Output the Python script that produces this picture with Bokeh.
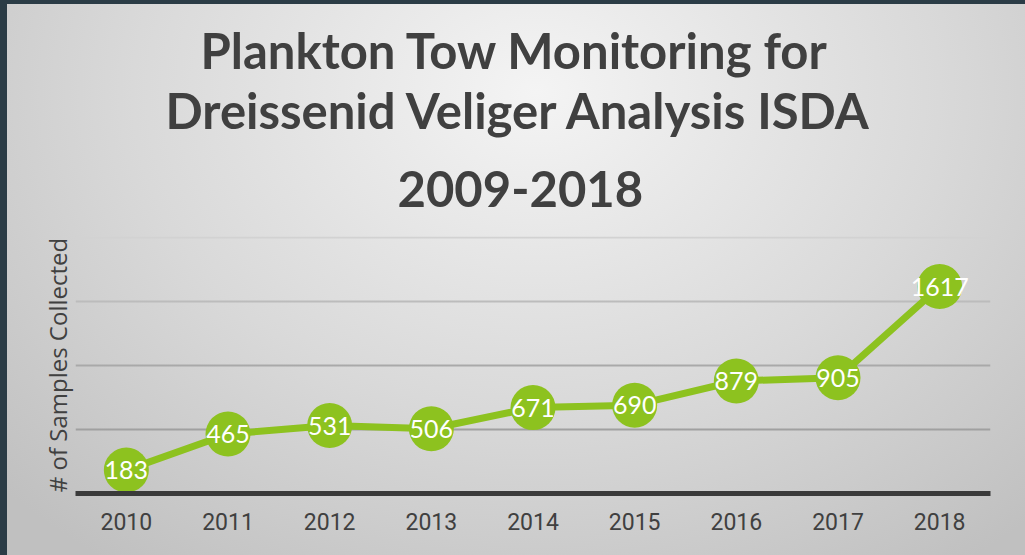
from bokeh.plotting import figure
from bokeh.models import (FactorRange, Range1d, FixedTicker, Title, LabelSet, Grid,
                          ColumnDataSource, InlineStyleSheet, GlobalInlineStyleSheet)
from bokeh.core.properties import value
from bokeh.embed import file_html
from bokeh.resources import INLINE

# ---- data ----
years = ["2010", "2011", "2012", "2013", "2014", "2015", "2016", "2017", "2018"]
samples = [183, 465, 531, 506, 671, 690, 879, 905, 1617]
title_lines = ["Plankton Tow Monitoring for", "Dreissenid Veliger Analysis ISDA", "2009-2018"]
y_label = "# of Samples Collected"
grid_ticks = [500, 1000, 1500, 2000]
grid_colors = ["#a0a0a0", "#a9a9a9", "#bcbcbc", "#d2d2d2"]

GREEN = "#8dc21f"
DARK = "#404040"

src = ColumnDataSource(dict(x=years, y=samples, lbl=[str(v) for v in samples]))

p = figure(width=1018, height=551, x_range=FactorRange(*years, range_padding=0),
           y_range=Range1d(0, 2008), output_backend="svg", toolbar_location=None,
           title_location=None, min_border_left=68, min_border_right=35,
           min_border_top=232, min_border_bottom=62)

p.border_fill_color = None
p.background_fill_color = None
p.outline_line_color = None
p.stylesheets = [
    InlineStyleSheet(css=":host { background: radial-gradient(ellipse 72% 105% at 52% 16%, #f4f4f4 0%, #d9d9d9 55%, #c0c0c0 100%); }"),
    GlobalInlineStyleSheet(css="html, body { margin: 0 !important; background: #2b3c46; } body { padding: 4px 0 0 7px !important; box-sizing: border-box; }"),
]

# grid lines (one per level so each can keep its own shade)
p.xgrid.grid_line_color = None
p.ygrid.grid_line_color = None
for t, c in zip(grid_ticks, grid_colors):
    p.add_layout(Grid(dimension=1, ticker=FixedTicker(ticks=[t]),
                      grid_line_color=c, grid_line_width=2))

p.line("x", "y", source=src, line_color=GREEN, line_width=7)
p.scatter("x", "y", source=src, size=45, fill_color=GREEN, line_color=None)
p.add_layout(LabelSet(x="x", y="y", text="lbl", source=src, text_align="center",
                      text_baseline="middle", text_color="white",
                      text_font=value("Lato"), text_font_size="25px"))

# title lines: nearest-to-plot first; later ones stack above
title_offsets = [125, 90, 322]      # left offset from the frame's left edge (px)
title_standoffs = [0, 0, 60]
for line, off, so in reversed(list(zip(title_lines, title_offsets, title_standoffs))):
    p.add_layout(Title(text=line, align="left", offset=off, standoff=so,
                       text_font="Lato", text_font_style="bold",
                       text_font_size="49px", text_color=DARK), "above")

# x axis
xa = p.xaxis[0]
xa.axis_line_color = "#3a3a3a"
xa.axis_line_width = 5
xa.major_tick_line_color = None
xa.minor_tick_line_color = None
xa.major_label_text_font = "Roboto"
xa.major_label_text_font_size = "23px"
xa.major_label_text_color = DARK
xa.major_label_standoff = 13

# y axis
ya = p.yaxis[0]
ya.ticker = FixedTicker(ticks=grid_ticks)
ya.axis_line_color = None
ya.major_tick_line_color = None
ya.minor_tick_line_color = None
ya.major_tick_out = 0
ya.major_label_standoff = 0
ya.major_label_text_font_size = "0px"
ya.axis_label = y_label
ya.axis_label_text_font = "Open Sans"
ya.axis_label_text_font_style = "normal"
ya.axis_label_text_font_size = "24px"
ya.axis_label_text_color = DARK
ya.axis_label_standoff = 2

open("out.html", "w").write(file_html(p, INLINE))
